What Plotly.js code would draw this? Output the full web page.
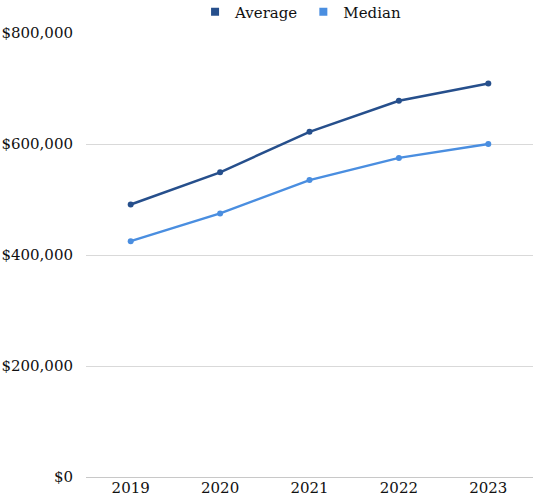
<!DOCTYPE html>
<html>
<head>
<meta charset="utf-8">
<script src="https://cdn.plot.ly/plotly-3.0.1.min.js"></script>
<style>
  html, body { margin: 0; padding: 0; background: #fff; }
  #graph { width: 533px; height: 502px; }
</style>
</head>
<body>
<div id="graph"></div>
<script>
// values
const years = ['2019', '2020', '2021', '2022', '2023'];
const average = [491000, 549000, 622000, 678000, 709000];
const median = [425000, 475000, 535000, 575000, 600000];

const names = ['Average', 'Median'];
const colors = ['#264f8c', '#4a8ee0'];

const font = {family: 'DejaVu Serif, serif', size: 15, color: '#111'};

function series(i, vals) {
    return {
        x: years,
        y: vals,
        name: names[i],
        legendgroup: names[i],
        showlegend: false,
        type: 'scatter',
        mode: 'lines+markers',
        line: {color: colors[i], width: 2.5},
        marker: {color: colors[i], size: 6}
    };
}

// square legend keys like the original
function key(i) {
    return {
        x: [null],
        y: [null],
        name: names[i],
        legendgroup: names[i],
        type: 'scatter',
        mode: 'markers',
        marker: {color: colors[i], symbol: 'square', size: 8}
    };
}

const data = [series(0, average), series(1, median), key(0), key(1)];

const layout = {
    width: 533,
    height: 502,
    margin: {l: 86, r: 0, t: 33, b: 25},
    paper_bgcolor: '#fff',
    plot_bgcolor: '#fff',
    font: font,
    showlegend: true,
    legend: {
        orientation: 'h',
        x: 0.48, xanchor: 'center',
        yref: 'container',
        y: 0.976, yanchor: 'middle',
        font: font,
        itemwidth: 30,
        traceorder: 'normal'
    },
    xaxis: {
        type: 'category',
        range: [-0.5, 4.5],
        showgrid: false,
        zeroline: false,
        showline: false,
        ticks: '',
        tickfont: font
    },
    yaxis: {
        range: [0, 800000],
        tickvals: [0, 200000, 400000, 600000, 800000],
        tickformat: '$,.0f',
        showgrid: true,
        gridcolor: '#d9d9d9',
        gridwidth: 1,
        zeroline: true,
        zerolinecolor: '#c8c8c8',
        showline: false,
        ticks: '',
        ticklabelstandoff: 12,
        tickfont: font
    }
};

Plotly.newPlot('graph', data, layout, {displayModeBar: false});
</script>
</body>
</html>
